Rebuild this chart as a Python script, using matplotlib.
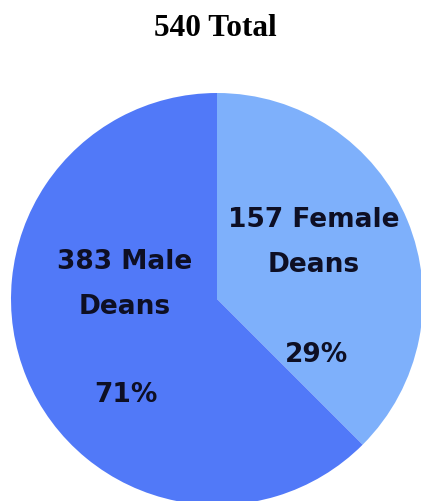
import matplotlib.pyplot as plt

# values
groups = ['Female', 'Male']
counts = [157, 383]
percent_labels = ['29%', '71%']
# share of the circle each wedge actually covers in the drawing
wedge_share = [37.5, 62.5]
colors = ['#7eb0fb', '#5179f8']
total = sum(counts)

fig = plt.figure(figsize=(4.21, 5.02), dpi=100)
fig.patch.set_facecolor('white')

# pie centre at (217, 300) px, radius ~206 px; bottom runs off the image
ax = fig.add_axes([11 / 421, -4 / 502, 412 / 421, 412 / 502])
ax.pie(wedge_share, colors=colors, startangle=90, counterclock=False,
       radius=1.0, wedgeprops=dict(linewidth=0))
ax.set_xlim(-1, 1)
ax.set_ylim(-1, 1)
ax.set_aspect('equal')
ax.axis('off')

txt = dict(ha='center', va='center', fontsize=19, fontweight='heavy',
           color='#0e0f24', family='DejaVu Sans')
ax.text(0.471, 0.279, f'{counts[0]} {groups[0]}\nDeans', linespacing=1.95, **txt)
ax.text(0.485, -0.267, percent_labels[0], **txt)
ax.text(-0.447, 0.075, f'{counts[1]} {groups[1]}\nDeans', linespacing=1.95, **txt)
ax.text(-0.442, -0.461, percent_labels[1], **txt)

fig.text(215 / 421, 1 - 29 / 502, f'{total} Total', ha='center', va='center',
         fontsize=22.5, fontweight='bold', family='Liberation Serif', color='black')

fig.savefig('out.png', dpi=100)
